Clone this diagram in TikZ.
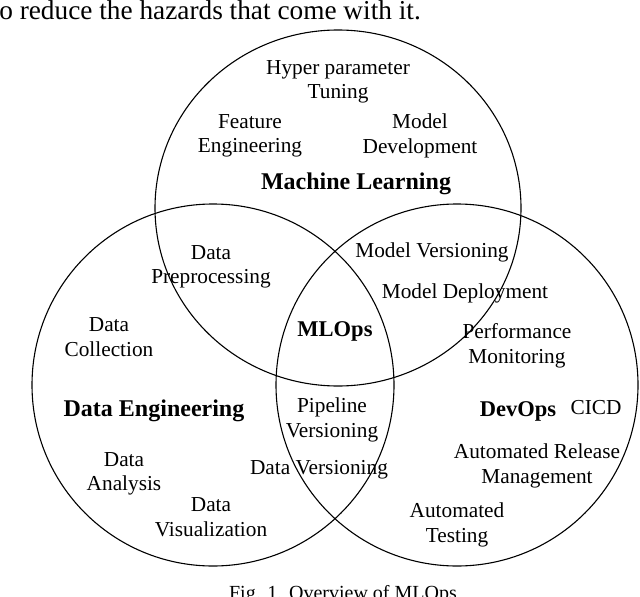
\documentclass[tikz,border=0pt]{standalone}
\usepackage{fontspec}
\setmainfont{Liberation Serif}
\begin{document}
\begin{tikzpicture}[x=1pt,y=-1pt,
  ring/.style={draw=black,line width=1.1pt},
  lbl/.style={inner sep=0pt,align=center,font=\fontsize{21.3}{24.5}\selectfont},
  head/.style={inner sep=0pt,align=center,font=\fontsize{22.5}{25}\selectfont\bfseries},
  bighead/.style={head,font=\fontsize{24}{26}\selectfont\bfseries}]
\useasboundingbox (0,0) rectangle (640,597);
\clip (0,0) rectangle (640,597);
% surrounding page text
\node[anchor=base west,inner sep=0pt,font=\fontsize{27.3}{30}\selectfont] (top) at (-8.5,19.5) {to reduce the hazards that come with it.};
\node[anchor=base,inner sep=0pt,font=\fontsize{20}{24}\selectfont] (cap) at (343,599) {Fig. 1. Overview of MLOps};
% circles
\draw[ring] (338,208) ellipse [x radius=183,y radius=178];
\draw[ring] (213,385) circle [radius=181];
\draw[ring] (457,385) circle [radius=181];
% labels
\node[lbl] (hp) at (338,82) {Hyper parameter\\Tuning};
\node[lbl] (fe) at (250,136) {Feature\\Engineering};
\node[lbl] (md) at (420,136) {Model\\Development};
\node[bighead] (ml) at (356,184) {Machine Learning};
\node[lbl] (dp) at (211,267) {Data\\Preprocessing};
\node[lbl] (mv) at (432,252) {Model Versioning};
\node[lbl] (mdep) at (465,293) {Model Deployment};
\node[head] (mlops) at (335,331) {MLOps};
\node[lbl] (pm) at (517,346) {Performance\\Monitoring};
\node[lbl] (dc) at (109,337) {Data\\Collection};
\node[bighead] (de) at (154,411) {Data Engineering};
\node[lbl] (pv) at (332,420) {Pipeline\\Versioning};
\node[head] (dev) at (518,411) {DevOps};
\node[lbl] (cicd) at (596,408) {CICD};
\node[lbl] (arm) at (537,466) {Automated Release\\Management};
\node[lbl] (da) at (124,474) {Data\\Analysis};
\node[lbl] (dv) at (319,470) {Data Versioning};
\node[lbl] (dvis) at (211,517) {Data\\Visualization};
\node[lbl] (at) at (457,525) {Automated\\Testing};
\end{tikzpicture}
\end{document}
